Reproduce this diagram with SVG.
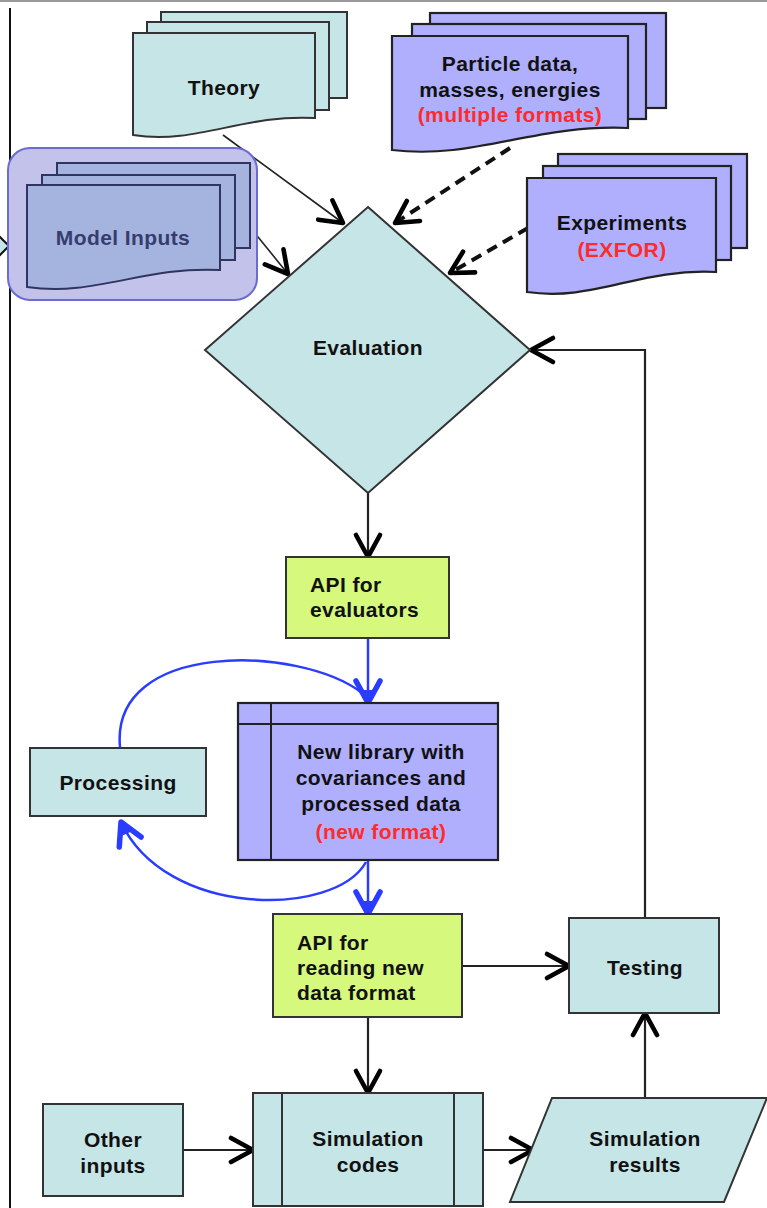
<svg xmlns="http://www.w3.org/2000/svg" width="767" height="1208" viewBox="0 0 767 1208">
  <defs>
    <style>
      text { font-family: "Liberation Sans", Arial, sans-serif; font-weight: bold; font-size: 21px; fill: #111; letter-spacing: 0.4px; }
      .mid { text-anchor: middle; }
      .red { fill: #ff2b2b; }
      .teal { fill: #c6e5e7; stroke: #333; stroke-width: 2; }
      .lav { fill: #afaffd; stroke: #222; stroke-width: 2.2; }
      .lime { fill: #d6f87c; stroke: #333; stroke-width: 2; }
      .mdl { fill: #a5b4df; stroke: #2e3560; stroke-width: 2; }
      .line { fill: none; stroke: #222; stroke-width: 2.2; }
      .thin { stroke-width: 1.6; }
      .dash { fill: none; stroke: #111; stroke-width: 4; stroke-dasharray: 11 7; }
      .blue { fill: none; stroke: #2a3cff; stroke-width: 2.5; }
      .arr { marker-end: url(#chev); }
      .barr { marker-end: url(#bchev); }
    </style>
    <!-- open chevron arrowhead, black -->
    <marker id="chev" markerUnits="userSpaceOnUse" viewBox="-28 -16 32 32" refX="0" refY="0" markerWidth="32" markerHeight="32" orient="auto" overflow="visible">
      <path d="M-22,-12 L0,0 L-22,12" fill="none" stroke="#000" stroke-width="4.6" stroke-linecap="round" stroke-linejoin="round"/>
    </marker>
    <!-- heavier chevron arrowhead, blue -->
    <marker id="bchev" markerUnits="userSpaceOnUse" viewBox="-28 -16 32 32" refX="0" refY="0" markerWidth="32" markerHeight="32" orient="auto" overflow="visible">
      <path d="M-22,-12 L0,0 L-22,12" fill="none" stroke="#2a3cff" stroke-width="5.5" stroke-linecap="round" stroke-linejoin="round"/>
      <path d="M-13,-6 L0,0 L-13,6 Z" fill="#2a3cff"/>
    </marker>
  </defs>

  <rect x="0" y="0" width="767" height="1208" fill="#fff"/>
  <!-- frame edges -->
  <line x1="0" y1="1" x2="767" y2="1" stroke="#999" stroke-width="2"/>
  <line x1="10" y1="8" x2="10" y2="1208" stroke="#111" stroke-width="2"/>
  <polygon points="-6,231 9,246 -6,261" fill="#c6e5e7" stroke="#111" stroke-width="2"/>

  <!-- connectors -->
  <g id="connectors">
    <path class="line thin arr" d="M223,135 L343,223"/>
    <path class="line thin arr" d="M250,227 L288,274"/>
    <path class="dash arr" d="M510,148 L395,223"/>
    <path class="dash arr" d="M528,228 L450,273"/>
    <path class="line arr" d="M368,493 V557"/>
    <path class="blue barr" d="M368,638 V703"/>
    <path class="blue" d="M120,747 C110,640 300,645 362,693"/>
    <path class="blue barr" d="M366,862 C335,918 165,918 121,822"/>
    <path class="blue barr" d="M368,860 V914"/>
    <path class="line arr" d="M462,966 H569"/>
    <path class="line arr" d="M645,918 V350 H531"/>
    <path class="line arr" d="M368,1017 V1093"/>
    <path class="line arr" d="M183,1150 H253"/>
    <path class="line arr" d="M483,1150 H533"/>
    <path class="line arr" d="M645,1098 V1013"/>
  </g>

  <g id="theory">
    <rect class="teal" x="161" y="12" width="186" height="86"/>
    <rect class="teal" x="147" y="22" width="182" height="88"/>
    <path class="teal" d="M133,33 H315 V118 C242,114 197,145 133,135 Z"/>
    <text class="mid" x="224" y="95">Theory</text>
  </g>

  <g id="model-inputs">
    <rect x="8" y="148" width="249" height="152" rx="22" fill="#c3c2ea" stroke="#6b6bd4" stroke-width="2"/>
    <rect class="mdl" x="57" y="163" width="193" height="85"/>
    <rect class="mdl" x="42" y="175" width="193" height="85"/>
    <path class="mdl" d="M27,185 H220 V270 C143,266 95,297 27,287 Z"/>
    <text class="mid" x="123" y="245" style="fill:#363d6c">Model Inputs</text>
  </g>

  <g id="particle-data">
    <rect class="lav" x="430" y="13" width="236" height="95"/>
    <rect class="lav" x="412" y="24" width="234" height="95"/>
    <path class="lav" d="M392,36 H628 V128 C534,124 475,160 392,150 Z"/>
    <text class="mid" x="510" y="71">Particle data,</text>
    <text class="mid" x="510" y="97">masses, energies</text>
    <text class="mid red" x="510" y="122">(multiple formats)</text>
  </g>

  <g id="experiments">
    <rect class="lav" x="558" y="154" width="189" height="94"/>
    <rect class="lav" x="543" y="166" width="188" height="94"/>
    <path class="lav" d="M527,178 H716 V272 C640,268 593,302 527,292 Z"/>
    <text class="mid" x="622" y="230">Experiments</text>
    <text class="mid red" x="622" y="257">(EXFOR)</text>
  </g>

  <g id="evaluation">
    <polygon class="teal" points="368,207 530,350 368,493 205,350"/>
    <text class="mid" x="368" y="355">Evaluation</text>
  </g>

  <g id="api-evaluators">
    <rect class="lime" x="286" y="557" width="163" height="81"/>
    <text x="310" y="592">API for</text>
    <text x="310" y="617">evaluators</text>
  </g>

  <g id="processing">
    <rect class="teal" x="30" y="748" width="176" height="68"/>
    <text class="mid" x="118" y="790">Processing</text>
  </g>

  <g id="new-library">
    <rect class="lav" x="238" y="703" width="260" height="157"/>
    <line x1="238" y1="724" x2="498" y2="724" stroke="#222" stroke-width="2"/>
    <line x1="271" y1="703" x2="271" y2="860" stroke="#222" stroke-width="2"/>
    <text class="mid" x="381" y="759">New library with</text>
    <text class="mid" x="381" y="785">covariances and</text>
    <text class="mid" x="381" y="811">processed data</text>
    <text class="mid red" x="381" y="839">(new format)</text>
  </g>

  <g id="api-reading">
    <rect class="lime" x="273" y="914" width="189" height="103"/>
    <text x="297" y="950">API for</text>
    <text x="297" y="975">reading new</text>
    <text x="297" y="1000">data format</text>
  </g>

  <g id="testing">
    <rect class="teal" x="569" y="918" width="150" height="95"/>
    <text class="mid" x="645" y="975">Testing</text>
  </g>

  <g id="other-inputs">
    <rect class="teal" x="43" y="1104" width="140" height="92"/>
    <text class="mid" x="113" y="1147">Other</text>
    <text class="mid" x="113" y="1173">inputs</text>
  </g>

  <g id="simulation-codes">
    <rect class="teal" x="253" y="1093" width="230" height="113"/>
    <line x1="282" y1="1093" x2="282" y2="1206" stroke="#333" stroke-width="2"/>
    <line x1="454" y1="1093" x2="454" y2="1206" stroke="#333" stroke-width="2"/>
    <text class="mid" x="368" y="1146">Simulation</text>
    <text class="mid" x="368" y="1172">codes</text>
  </g>

  <g id="simulation-results">
    <polygon class="teal" points="552,1098 767,1098 724,1202 510,1202"/>
    <text class="mid" x="645" y="1146">Simulation</text>
    <text class="mid" x="645" y="1172">results</text>
  </g>
</svg>
